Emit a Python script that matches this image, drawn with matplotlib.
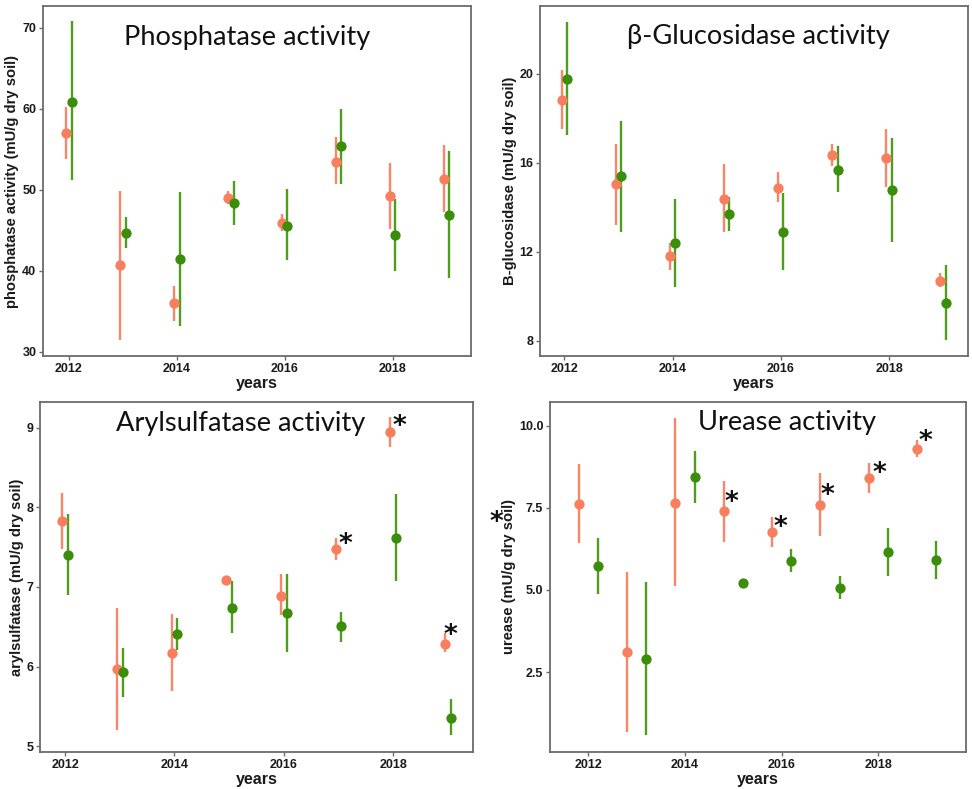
import matplotlib
matplotlib.use("Agg")
import matplotlib.pyplot as plt
import numpy as np

W, H = 972, 789

years = [2012, 2013, 2014, 2015, 2016, 2017, 2018, 2019]

# Phosphatase activity
phos_o = [57.0, 40.7, 36.0, 49.0, 45.9, 53.5, 49.2, 51.4]
phos_o_lo = [53.8, 31.5, 33.8, 48.3, 44.9, 50.7, 45.2, 47.3]
phos_o_hi = [60.2, 49.9, 38.2, 49.9, 47.0, 56.5, 53.3, 55.6]
phos_g = [60.9, 44.7, 41.5, 48.4, 45.6, 55.4, 44.4, 46.9]
phos_g_lo = [51.2, 42.8, 33.2, 45.7, 41.3, 50.7, 40.0, 39.1]
phos_g_hi = [70.8, 46.7, 49.8, 51.1, 50.1, 60.0, 48.9, 54.8]

# beta-Glucosidase
gluc_o = [18.85, 15.04, 11.79, 14.37, 14.89, 16.36, 16.21, 10.70]
gluc_o_lo = [17.54, 13.20, 11.18, 12.87, 14.25, 15.87, 14.91, 10.43]
gluc_o_hi = [20.16, 16.87, 12.39, 15.94, 15.57, 16.84, 17.54, 11.06]
gluc_g = [19.78, 15.39, 12.40, 13.69, 12.90, 15.69, 14.76, 9.71]
gluc_g_lo = [17.24, 12.87, 10.43, 12.93, 11.18, 14.71, 12.42, 8.03]
gluc_g_hi = [22.35, 17.89, 14.38, 14.47, 14.65, 16.75, 17.12, 11.40]

# Arylsulfatase
aryl_o = [7.83, 5.97, 6.17, 7.09, 6.89, 7.47, 8.94, 6.29]
aryl_o_lo = [7.48, 5.21, 5.70, 7.07, 6.65, 7.34, 8.76, 6.18]
aryl_o_hi = [8.18, 6.74, 6.66, 7.11, 7.16, 7.62, 9.13, 6.42]
aryl_g = [7.40, 5.93, 6.41, 6.74, 6.67, 6.51, 7.62, 5.36]
aryl_g_lo = [6.90, 5.62, 6.21, 6.42, 6.19, 6.31, 7.08, 5.14]
aryl_g_hi = [7.92, 6.24, 6.61, 7.07, 7.16, 6.69, 8.17, 5.60]

# Urease
ure_o = [7.61, 3.11, 7.66, 7.39, 6.76, 7.59, 8.40, 9.29]
ure_o_lo = [6.44, 0.68, 5.13, 6.47, 6.31, 6.63, 7.96, 9.04]
ure_o_hi = [8.82, 5.54, 10.24, 8.31, 7.22, 8.56, 8.85, 9.57]
ure_g = [5.72, 2.89, 8.44, 5.20, 5.89, 5.05, 6.17, 5.91]
ure_g_lo = [4.89, 0.58, 7.66, 5.18, 5.54, 4.72, 5.44, 5.33]
ure_g_hi = [6.57, 5.23, 9.23, 5.22, 6.24, 5.43, 6.90, 6.49]

ORANGE = "#F97E5E"
GREEN = "#3B8E0A"
ORANGE_BAR = "#FA8568"
GREEN_BAR = "#4E9E1C"

fig = plt.figure(figsize=(W / 100, H / 100), dpi=100)


def px_axes(x0, y0, x1, y1):
    return fig.add_axes([x0 / W, 1 - y1 / H, (x1 - x0) / W, (y1 - y0) / H])


def panel(rect, ylim, xlim, yticks, yticklabels, ylabel, dodge,
          o, olo, ohi, g, glo, ghi):
    ax = px_axes(*rect)
    yr = np.array(years, dtype=float)
    for x, m, lo, hi, col, bcol in [
        (yr - dodge, o, olo, ohi, ORANGE, ORANGE_BAR),
        (yr + dodge, g, glo, ghi, GREEN, GREEN_BAR),
    ]:
        ax.vlines(x, lo, hi, color=bcol, lw=1.7, zorder=2)
        ax.plot(x, m, "o", color=col, ms=7.4, mec="none", zorder=3)
    ax.set_xlim(*xlim)
    ax.set_ylim(*ylim)
    ax.set_xticks([2012, 2014, 2016, 2018])
    ax.set_xticklabels(["2012", "2014", "2016", "2018"])
    ax.set_yticks(yticks)
    ax.set_yticklabels(yticklabels)
    for s in ax.spines.values():
        s.set_color("#6b6b6b")
        s.set_linewidth(1.3)
    ax.tick_params(length=2.8, width=1.0, color="#6b6b6b", pad=2,
                   labelsize=9, labelcolor="#1a1a1a")
    for lab in ax.get_xticklabels() + ax.get_yticklabels():
        lab.set_fontweight("bold")
        lab.set_family("Liberation Sans")
    ax.set_xlabel("years", fontsize=11.5, fontweight="bold",
                  family="Liberation Sans", color="#1a1a1a", labelpad=1)
    ax.set_ylabel(ylabel, fontsize=10.6, fontweight="bold",
                  family="Liberation Sans", color="#1a1a1a", labelpad=2)
    return ax


ax1 = panel((43, 6, 471, 356), (29.5, 72.7), (2011.52, 2019.45),
            [30, 40, 50, 60, 70], ["30", "40", "50", "60", "70"],
            "phosphatase activity (mU/g dry soil)", 0.05,
            phos_o, phos_o_lo, phos_o_hi, phos_g, phos_g_lo, phos_g_hi)

ax2 = panel((540, 6, 968, 356), (7.31, 23.06), (2011.55, 2019.46),
            [8, 12, 16, 20], ["8", "12", "16", "20"],
            "B-glucosidase (mU/g dry soil)", 0.05,
            gluc_o, gluc_o_lo, gluc_o_hi, gluc_g, gluc_g_lo, gluc_g_hi)

ax3 = panel((40, 402, 473, 752), (4.93, 9.32), (2011.54, 2019.46),
            [5, 6, 7, 8, 9], ["5", "6", "7", "8", "9"],
            "arylsulfatase (mU/g dry soil)", 0.05,
            aryl_o, aryl_o_lo, aryl_o_hi, aryl_g, aryl_g_lo, aryl_g_hi)

ax4 = panel((550, 402, 966, 752), (0.07, 10.72), (2011.21, 2019.81),
            [2.5, 5.0, 7.5, 10.0], ["2.5", "5.0", "7.5", "10.0"],
            "urease (mU/g dry soil)", 0.2,
            ure_o, ure_o_lo, ure_o_hi, ure_g, ure_g_lo, ure_g_hi)

# Panel titles
def ftext(xp, yp, s, **kw):
    fig.text(xp / W, 1 - yp / H, s, **kw)

tkw = dict(fontsize=19.6, family="Lato", ha="center", va="baseline", color="#111111")
ftext(247, 45, "Phosphatase activity", **tkw)
ftext(758, 44, "\u03b2-Glucosidase activity", **tkw)
ftext(241, 431, "Arylsulfatase activity", **tkw)
ftext(787, 430, "Urease activity", **tkw)

# Significance asterisks
skw = dict(fontsize=19, fontweight="bold", ha="center", va="center",
           family="DejaVu Sans", color="#111111")
star_aryl_x = [2017.12, 2018.12, 2019.05]
star_aryl_y = [7.53, 9.01, 6.38]
for x, y in zip(star_aryl_x, star_aryl_y):
    ax3.text(x, y, "*", **skw)
star_ure_x = [2014.97, 2015.97, 2016.95, 2018.03, 2018.97]
star_ure_y = [7.66, 6.90, 7.85, 8.52, 9.49]
for x, y in zip(star_ure_x, star_ure_y):
    ax4.text(x, y, "*", **skw)
ftext(496, 523, "*", **skw)

fig.savefig("out.png", dpi=100, facecolor="white")
